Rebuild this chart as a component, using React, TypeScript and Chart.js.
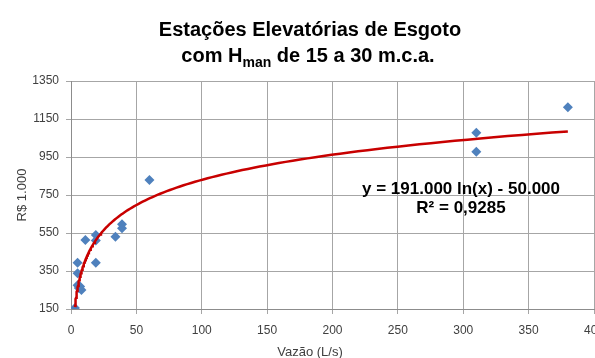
import React, { useEffect, useRef } from "react";
import { Chart, registerables } from "chart.js";

Chart.register(...registerables);

// ---- data ----
const flowLps = [3, 5, 5, 5, 6, 7, 8, 11, 19, 19, 19, 34, 39, 39, 60, 310, 310, 380];
const costThousandBRL = [155, 394, 338, 275, 260, 268, 250, 513, 540, 510, 394, 530, 596, 575, 829, 1077, 977, 1212];

// trendline as displayed in the chart: y = a ln(x) + b
const trendA = 191;
const trendB = -50;
const trendSamples = 150;

const xMin = 0;
const xMax = 400;
const xStep = 50;
const yMin = 150;
const yMax = 1350;
const yStep = 200;

const titleLine1 = "Estações Elevatórias de Esgoto";
const titleLine2Parts = ["com H", "man", " de 15 a 30 m.c.a."];
const xAxisTitle = "Vazão (L/s)";
const yAxisTitle = "R$ 1.000";
const equationText = "y = 191.000 ln(x) - 50.000";
const r2Text = "R² = 0,9285";

const FONT = '"Liberation Sans", Arial, Helvetica, sans-serif';

function buildTrend() {
  const lo = Math.min(...flowLps);
  const hi = Math.max(...flowLps);
  const pts: { x: number; y: number }[] = [];
  for (let i = 0; i <= trendSamples; i++) {
    const x = lo * Math.pow(hi / lo, i / trendSamples);
    pts.push({ x, y: trendA * Math.log(x) + trendB });
  }
  return pts;
}

const textPlugin = {
  id: "customTexts",
  afterDraw(chart: any) {
    const ctx: CanvasRenderingContext2D = chart.ctx;
    ctx.save();
    // Title
    ctx.fillStyle = "#000000";
    ctx.textBaseline = "alphabetic";
    ctx.textAlign = "center";
    const big = `bold 20px ${FONT}`;
    const small = `bold 14px ${FONT}`;
    ctx.font = big;
    ctx.fillText(titleLine1, 310, 36);
    ctx.font = big;
    const w1 = ctx.measureText(titleLine2Parts[0]).width;
    const w3 = ctx.measureText(titleLine2Parts[2]).width;
    ctx.font = small;
    const w2 = ctx.measureText(titleLine2Parts[1]).width;
    let x = 308 - (w1 + w2 + w3) / 2;
    ctx.textAlign = "left";
    ctx.font = big;
    ctx.fillText(titleLine2Parts[0], x, 62);
    x += w1;
    ctx.font = small;
    ctx.fillText(titleLine2Parts[1], x, 67);
    x += w2;
    ctx.font = big;
    ctx.fillText(titleLine2Parts[2], x, 62);

    // Trendline equation
    ctx.textAlign = "center";
    ctx.font = `bold 17px ${FONT}`;
    ctx.fillText(equationText, 461, 194);
    ctx.fillText(r2Text, 461, 213);

    // Axis titles
    ctx.fillStyle = "#404040";
    ctx.font = `13px ${FONT}`;
    ctx.fillText(xAxisTitle, 310, 356);
    ctx.translate(22, 195);
    ctx.rotate(-Math.PI / 2);
    ctx.textBaseline = "middle";
    ctx.fillText(yAxisTitle, 0, 0);
    ctx.restore();
  },
};

export default function App() {
  const ref = useRef<HTMLCanvasElement | null>(null);

  useEffect(() => {
    if (!ref.current) return;
    const points = flowLps.map((x, i) => ({ x, y: costThousandBRL[i] }));
    const chart = new Chart(ref.current, {
      type: "scatter",
      data: {
        datasets: [
          {
            type: "line",
            label: "Tendência",
            data: buildTrend(),
            borderColor: "#c80000",
            borderWidth: 2.5,
            pointRadius: 0,
            fill: false,
            tension: 0,
          } as any,
          {
            label: "Estações",
            data: points,
            pointStyle: "rectRot",
            pointRadius: 5,
            backgroundColor: "#4f81bd",
            borderColor: "#4f81bd",
            borderWidth: 0,
          },
        ],
      },
      options: {
        animation: false,
        responsive: false,
        devicePixelRatio: 1,
        layout: { padding: { top: 81, left: 0, right: 26, bottom: 0 } },
        plugins: {
          legend: { display: false },
          tooltip: { enabled: false },
          title: { display: false },
        },
        scales: {
          x: {
            type: "linear",
            min: xMin,
            max: xMax,
            ticks: {
              stepSize: xStep,
              color: "#404040",
              font: { family: FONT, size: 12 },
              padding: 9,
              maxRotation: 0,
              callback: (v: any) => String(v),
            },
            grid: { color: "#a6a6a6", tickLength: 5, lineWidth: 1 },
            border: { color: "#8c8c8c" },
            afterFit: (s: any) => {
              s.height = 49;
            },
          },
          y: {
            type: "linear",
            min: yMin,
            max: yMax,
            ticks: {
              stepSize: yStep,
              color: "#404040",
              font: { family: FONT, size: 12 },
              padding: 7,
              callback: (v: any) => String(v),
            },
            grid: { color: "#a6a6a6", tickLength: 5, lineWidth: 1 },
            border: { color: "#8c8c8c" },
            afterFit: (s: any) => {
              s.width = 71;
            },
          },
        },
      },
      plugins: [textPlugin],
    });
    return () => chart.destroy();
  }, []);

  return (
    <div
      style={{
        position: "fixed",
        left: 0,
        top: 0,
        width: 595,
        height: 358,
        overflow: "hidden",
        background: "#ffffff",
      }}
    >
      <canvas ref={ref} width={620} height={358} style={{ width: 620, height: 358, display: "block" }} />
    </div>
  );
}
